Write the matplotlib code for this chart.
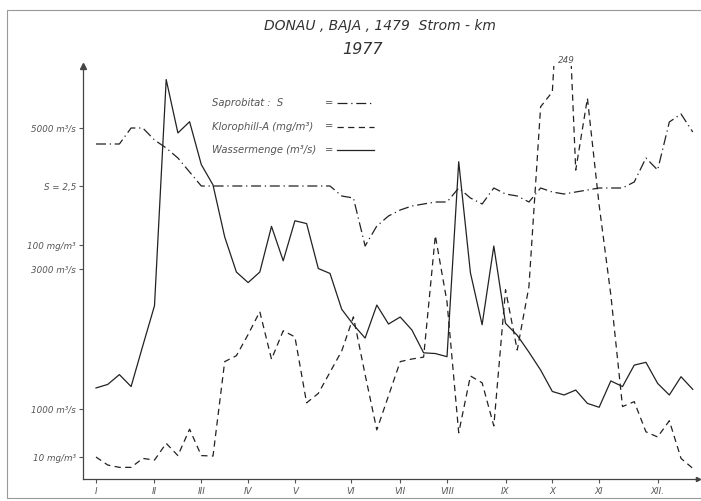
import matplotlib
matplotlib.use("Agg")
import matplotlib.pyplot as plt
from matplotlib.lines import Line2D
from matplotlib.patches import Rectangle

# week numbers 1977
weeks = list(range(1, 53))

# Wassermenge (m3/s)
wasser = [1300, 1350, 1490, 1320, 1900, 2470, 5690, 4930, 5090, 4480,
          4190, 3450, 2950, 2800, 2950, 3600, 3110, 3680, 3640, 3000,
          2930, 2420, 2200, 2010, 2480, 2210, 2310, 2125, 1800, 1790,
          1745, 4520, 2940, 2200, 3320, 2220, 2050, 1810, 1555, 1250,
          1200, 1270, 1080, 1025, 1400, 1320, 1625, 1665, 1365, 1200,
          1460, 1280]

# Klorophill-A (mg/m3)
kloro = [10, 6.6, 5.6, 5.6, 9.4, 8.7, 15.8, 10.6, 21.8, 10.6,
         10.4, 50.5, 53, 62, 71.7, 51.5, 63.6, 61, 33, 37,
         46, 55, 69.5, 45, 21.5, 36, 50.5, 51.6, 52.4, 104,
         75.8, 20.3, 44.4, 41.5, 23.2, 81, 55.4, 82.3, 158.7, 165,
         249, 131.8, 162.3, 117, 78.8, 31.4, 33.5, 20.7, 18.5, 25.4,
         9.4, 5.2]

# Saprobitat S
sapro = [2.71, 2.71, 2.71, 2.79, 2.79, 2.73, 2.69, 2.64, 2.57, 2.50,
         2.50, 2.50, 2.50, 2.50, 2.50, 2.50, 2.50, 2.50, 2.50, 2.50,
         2.50, 2.45, 2.44, 2.20, 2.30, 2.35, 2.38, 2.40, 2.41, 2.42,
         2.42, 2.49, 2.44, 2.41, 2.49, 2.46, 2.45, 2.42, 2.49, 2.47,
         2.46, 2.47, 2.48, 2.49, 2.49, 2.49, 2.52, 2.64, 2.58, 2.82,
         2.86, 2.77]

month_pos = [1, 6, 10, 14, 18, 22.8, 27, 31, 36, 40, 44, 49]
month_lab = ["I", "II", "III", "IV", "V", "VI", "VII", "VIII", "IX", "X", "XI", "XII."]

ink = "#222222"
grey = "#555555"
W, H = 701, 501

fig = plt.figure(figsize=(W / 100, H / 100), dpi=100)
fig.patch.set_facecolor("white")

# scanned sheet frame
fig.add_artist(Rectangle((7 / W, 1 - 498 / H), 700 / W, 488 / H, transform=fig.transFigure,
                         fill=False, lw=0.8, ec="#999999"))

l, r, t, b = 83, 698, 66, 479
ax = fig.add_axes([l / W, 1 - b / H, (r - l) / W, (b - t) / H])
axc = ax.twinx()
axs = ax.twinx()

for a in (ax, axc, axs):
    a.set_xlim(-0.11, 52.45)
    a.patch.set_visible(False)
    for s in a.spines.values():
        s.set_visible(False)
    a.tick_params(axis="y", left=True, labelleft=True, right=False, labelright=False,
                  length=3, width=0.8, color=grey, labelsize=6.3, labelcolor=grey, pad=2)
    a.yaxis.set_ticks_position("left")

ax.spines["left"].set_visible(True)
ax.spines["bottom"].set_visible(True)
ax.spines["left"].set_color("#444444")
ax.spines["bottom"].set_color("#444444")
ax.spines["left"].set_linewidth(0.9)
ax.spines["bottom"].set_linewidth(0.9)

ax.set_ylim(4, 5883)
axc.set_ylim(0.66, 176)
axs.set_ylim(1.035, 3.1)

ax.plot(weeks, wasser, color=ink, lw=0.9)
axc.plot(weeks, kloro, color=ink, lw=0.9, dashes=(5, 3.5))
axs.plot(weeks, sapro, color=ink, lw=0.9, dashes=(8, 3, 1, 3))

ax.set_yticks([1000, 3000, 5000])
ax.set_yticklabels(["1000 m³/s", "3000 m³/s", "5000 m³/s"], style="italic")
axc.set_yticks([10, 100])
axc.set_yticklabels(["10 mg/m³", "100 mg/m³"], style="italic")
axs.set_yticks([2.5])
axs.set_yticklabels(["S = 2,5"], style="italic")

ax.set_xticks(month_pos)
ax.set_xticklabels(month_lab, style="italic")
ax.tick_params(axis="x", length=3, width=0.8, color=grey, labelsize=6.3, labelcolor=grey, pad=3)

# axis arrows
ax.plot(0, 1, marker="^", ms=4, color="#444444", transform=ax.transAxes, clip_on=False)
ax.plot(1, 0, marker=">", ms=3, color="#444444", transform=ax.transAxes, clip_on=False)

# off-scale peak
axc.text(41.2, 1.0145, "249", transform=axc.get_xaxis_transform(), ha="center", va="center",
         fontsize=6.3, style="italic", color=grey)

# title
fig.text(380 / W, 1 - 26 / H, "DONAU , BAJA , 1479  Strom - km", ha="center", va="center",
         fontsize=10, style="italic", color="#333333")
fig.text(362 / W, 1 - 49 / H, "1977", ha="center", va="center",
         fontsize=11.5, style="italic", color="#333333")

# legend
leg = [("Saprobitat :  S", (8, 3, 1, 3)),
       ("Klorophill-A (mg/m³)", (5, 3.5)),
       ("Wassermenge (m³/s)", None)]
for i, (txt, dash) in enumerate(leg):
    y = 1 - (103 + i * 23.5) / H
    fig.text(212 / W, y, txt, ha="left", va="center", fontsize=7.2, style="italic", color=grey)
    fig.text(325 / W, y, "=", ha="left", va="center", fontsize=7.2, style="italic", color=grey)
    ln = Line2D([337 / W, 374 / W], [y, y], transform=fig.transFigure, color=ink, lw=0.9)
    if dash:
        ln.set_dashes(dash)
    fig.add_artist(ln)

fig.savefig("out.png", dpi=100)
